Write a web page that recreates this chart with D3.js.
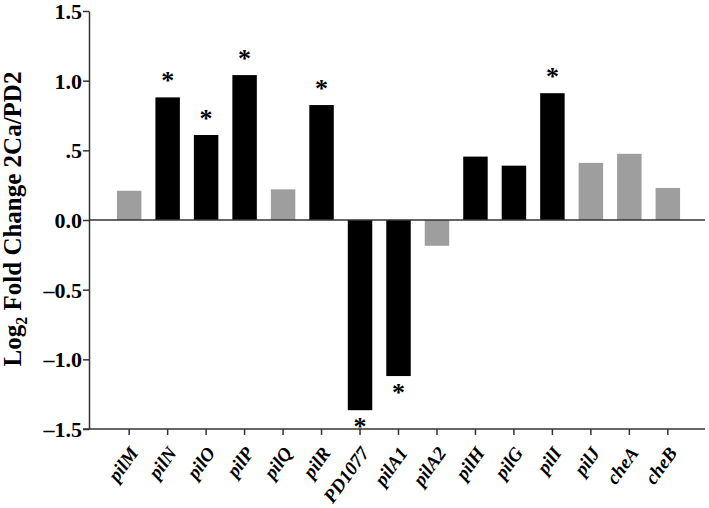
<!DOCTYPE html>
<html><head><meta charset="utf-8">
<script src="https://cdn.jsdelivr.net/npm/d3@7"></script>
<style>body{margin:0;background:#fff}</style>
</head><body>
<svg id="c" width="709" height="508"></svg>
<script>
const categories = ["pilM","pilN","pilO","pilP","pilQ","pilR","PD1077","pilA1","pilA2","pilH","pilG","pilI","pilJ","cheA","cheB"];
const values = [0.21, 0.88, 0.61, 1.04, 0.22, 0.825, -1.365, -1.12, -0.185, 0.455, 0.39, 0.91, 0.41, 0.475, 0.23];
const highlighted = [0,1,1,1,0,1,1,1,0,1,1,1,0,0,0];
const significant = [0,1,1,1,0,1,1,1,0,0,0,1,0,0,0];
const yTicks = [-1.5,-1.0,-0.5,0,0.5,1.0,1.5];
const yTickLabels = ["\u20131.5","\u20131.0","\u20130.5","0.0",".5","1.0","1.5"];

const svg = d3.select("#c");
const axisColor = "#333";
const x = d3.scaleBand().domain(categories).range([90, 707]).paddingInner(0.364).paddingOuter(0.7);
const y = d3.scaleLinear().domain([-1.5, 1.5]).range([429, 11]);
const serif = "'Liberation Serif','Times New Roman',serif";

// bars
svg.append("g").selectAll("rect").data(categories).join("rect")
  .attr("x", d => x(d))
  .attr("width", x.bandwidth())
  .attr("y", (d,i) => y(Math.max(0, values[i])))
  .attr("height", (d,i) => Math.abs(y(values[i]) - y(0)))
  .attr("fill", (d,i) => highlighted[i] ? "#000" : "#9e9e9e");

// asterisks
svg.append("g").selectAll("text").data(categories.filter((d,i)=>significant[i])).join("text")
  .attr("x", d => x(d) + x.bandwidth()/2)
  .attr("y", d => { const v = values[categories.indexOf(d)]; return v >= 0 ? y(v) - 8 : y(v) + 25; })
  .attr("text-anchor","middle")
  .attr("font-family", serif).attr("font-size", 26).attr("font-weight","bold")
  .text("*");

// y axis
const yAxis = d3.axisLeft(y).tickValues(yTicks).tickFormat((d,i)=>yTickLabels[i]).tickSize(6).tickSizeOuter(0);
const gy = svg.append("g").attr("transform","translate(89,0)").call(yAxis);
gy.select(".domain").attr("stroke", axisColor).attr("stroke-width", 1.5);
gy.selectAll(".tick line").attr("stroke", axisColor).attr("stroke-width", 1.5);
gy.selectAll(".tick text").attr("font-family", serif).attr("font-size", 22).attr("font-weight","bold")
  .attr("fill","#000").attr("x", -7).attr("dy","0.34em");

// x axis (bottom)
const xAxis = d3.axisBottom(x).tickSize(6).tickSizeOuter(0);
const gx = svg.append("g").attr("transform","translate(0,429)").call(xAxis);
gx.select(".domain").remove();
gx.append("line").attr("x1", 83).attr("x2", 705).attr("y1",0).attr("y2",0).attr("stroke", axisColor).attr("stroke-width",1.5);
gx.selectAll(".tick line").attr("stroke", axisColor).attr("stroke-width", 1.5);
gx.selectAll(".tick text")
  .attr("font-family", serif).attr("font-size", 19).attr("font-weight","bold").attr("font-style","italic")
  .attr("fill","#000").attr("text-anchor","end")
  .attr("y", 0).attr("dy", 0)
  .attr("transform","translate(10,24) rotate(-54)");

// zero line
svg.append("line").attr("x1", 89).attr("x2", 705).attr("y1", y(0)).attr("y2", y(0))
  .attr("stroke", axisColor).attr("stroke-width", 1.5);

// y label
const lab = svg.append("text").attr("transform", `translate(21,${219}) rotate(-90)`)
  .attr("text-anchor","middle").attr("font-family", serif).attr("font-size", 25).attr("font-weight","bold").attr("fill","#000");
lab.append("tspan").text("Log");
lab.append("tspan").attr("font-size", 16).attr("dy", 6).text("2");
lab.append("tspan").attr("dy", -6).text(" Fold Change 2Ca/PD2");
</script>
</body></html>
